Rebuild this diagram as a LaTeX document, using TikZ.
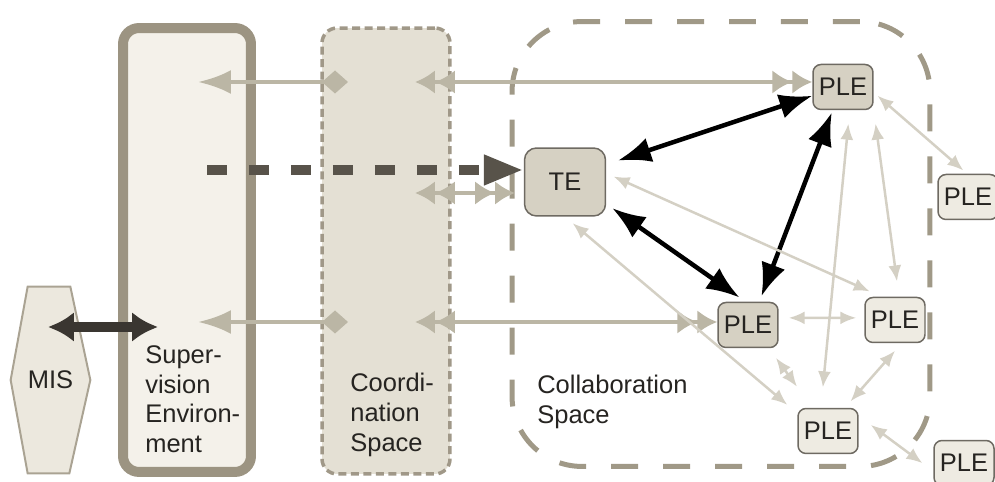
\documentclass[tikz,border=0pt]{standalone}
\usepackage{fontspec}
\setsansfont{Liberation Sans}
\usepackage{tikz}
\usetikzlibrary{arrows.meta, positioning, calc, backgrounds}
\definecolor{supfill}{RGB}{244,241,234}
\definecolor{supline}{RGB}{156,148,130}
\definecolor{coordfill}{RGB}{228,224,212}
\definecolor{coordline}{RGB}{160,152,136}
\definecolor{collabline}{RGB}{160,153,135}
\definecolor{linkgray}{RGB}{187,182,165}
\definecolor{weakgray}{RGB}{212,208,196}
\definecolor{dashdark}{RGB}{88,83,74}
\definecolor{busdark}{RGB}{58,54,49}
\definecolor{nodedark}{RGB}{214,209,195}
\definecolor{nodelight}{RGB}{238,235,226}
\definecolor{nodeline}{RGB}{110,106,98}
\definecolor{misfill}{RGB}{236,232,222}
\definecolor{misline}{RGB}{170,163,147}
\definecolor{textdark}{RGB}{38,36,33}
\newcommand{\diagfont}{\sffamily\fontsize{14.5}{17}\selectfont}
\tikzset{
    supbox/.style={
        rectangle,
        draw=supline,
        line width=0.2cm,
        fill=supfill,
        rounded corners=0.32cm,
        minimum width=2.56cm,
        minimum height=8.88cm
    },
    coordbox/.style={
        rectangle,
        draw=coordline,
        line width=0.07cm,
        dash pattern=on 0.16cm off 0.09cm,
        fill=coordfill,
        rounded corners=0.3cm,
        minimum width=2.56cm,
        minimum height=8.92cm
    },
    collabbox/.style={
        rectangle,
        draw=collabline,
        line width=0.1cm,
        dash pattern=on 0.54cm off 0.5cm,
        rounded corners=1.4cm,
        minimum width=8.36cm,
        minimum height=8.9cm
    },
    tebox/.style={
        rectangle,
        draw=nodeline,
        line width=0.03cm,
        fill=nodedark,
        rounded corners=0.24cm,
        minimum width=1.62cm,
        minimum height=1.36cm,
        text=textdark,
        font=\diagfont
    },
    pleblock/.style={
        rectangle,
        draw=nodeline,
        line width=0.03cm,
        fill=nodedark,
        rounded corners=0.16cm,
        minimum width=1.2cm,
        minimum height=0.9cm,
        inner sep=0pt,
        text=textdark,
        font=\diagfont
    },
    plelight/.style={
        pleblock,
        fill=nodelight
    },
    mislabel/.style={
        minimum width=1.58cm,
        minimum height=3.72cm,
        text=textdark,
        font=\diagfont
    },
    arealabel/.style={
        anchor=north west,
        align=left,
        inner sep=0pt,
        text=textdark,
        font=\diagfont
    },
    link/.style={
        draw=linkgray,
        line width=0.09cm,
        >={Latex[length=0.4cm,width=0.48cm]}
    },
    linkdiamond/.style={
        draw=linkgray,
        line width=0.09cm,
        {Latex[length=0.66cm,width=0.48cm]}-{Diamond[length=0.52cm,width=0.46cm]}
    },
    bus/.style={
        draw=busdark,
        line width=0.2cm,
        {Latex[length=0.52cm,width=0.6cm]}-{Latex[length=0.52cm,width=0.6cm]}
    },
    controlsignal/.style={
        draw=dashdark,
        line width=0.2cm,
        dash pattern=on 0.4cm off 0.44cm,
        -{Triangle[length=0.8cm,width=0.56cm]}
    },
    strongconn/.style={
        draw=black,
        line width=0.09cm,
        {Latex[length=0.66cm,width=0.5cm]}-{Latex[length=0.66cm,width=0.5cm]}
    },
    weakconn/.style={
        draw=weakgray,
        line width=0.05cm,
        {Latex[length=0.32cm,width=0.26cm]}-{Latex[length=0.32cm,width=0.26cm]}
    }
}

\begin{document}
\begin{tikzpicture}[x=0.02cm, y=-0.02cm]
\useasboundingbox (0,0) rectangle (995,482);

% Environments and spaces
\node[supbox] (supervision) at (187,250) {};
\node[coordbox] (coordination) at (386,251) {};
\node[collabbox] (collaboration) at (721,244) {};
\node[mislabel] (mis) at (50.5,380) {MIS};

\begin{scope}[on background layer]
\draw[draw=misline, line width=0.04cm, fill=misfill]
    (mis.west) -- ([xshift=0.34cm]mis.north west) -- ([xshift=-0.4cm]mis.north east)
    -- (mis.east) -- ([xshift=-0.42cm]mis.south east) -- ([xshift=0.34cm]mis.south west) -- cycle;
\end{scope}

% Area labels
\node[arealabel] (suplabel) at (145,345) {Super-\\vision\\Environ-\\ment};
\node[arealabel] (coordlabel) at (350,373) {Coordi-\\nation\\Space};
\node[arealabel] (collablabel) at (537,375) {Collaboration\\Space};

% Collaboration members
\node[tebox] (te) at (565,182) {TE};
\node[pleblock] (pletop) at (843,87) {PLE};
\node[pleblock] (plemid) at (748,325) {PLE};
\node[plelight] (plefar) at (968,197) {PLE};
\node[plelight] (pleright) at (895,320) {PLE};
\node[plelight] (plebot) at (828,431) {PLE};
\node[plelight] (plecorner) at (964,463) {PLE};

% Free ends inside the areas
\coordinate (supA) at (198,82);
\coordinate (coordA) at (348,82);
\coordinate (coordB) at (415,82);
\coordinate (supD) at (198,322);
\coordinate (coordD) at (348,322);
\coordinate (coordE) at (415,322);
\coordinate (coordC) at (415,193);
\coordinate (collabC) at (515,193);
\coordinate (supS) at (207,170);
\coordinate (misport) at (48,327);
\coordinate (support) at (158,327);

% Rows through the coordination space
\draw[linkdiamond] (supA) -- (coordA);
\draw[link, <<->>] (coordB) -- (coordB -| pletop.west);
\draw[link, <<->>] (coordC) -- (collabC);
\draw[linkdiamond] (supD) -- (coordD);
\draw[link, <<->>] (coordE) -- (coordE -| plemid.west);
\draw[controlsignal] (supS) -- (supS -| te.west);
\draw[bus] (misport) -- (support);

% Strong links
\draw[strongconn, shorten <=0.25cm] (te.23) -- (pletop.196);
\draw[strongconn, shorten <=0.15cm, shorten >=0.15cm] (te.-28) -- (plemid.96);
\draw[strongconn, shorten <=0.05cm, shorten >=0.12cm] (pletop.246) -- (plemid.64);

% Weak links
\draw[weakconn, shorten <=0.1cm, shorten >=0.1cm] (pletop.-10) -- (plefar.92);
\draw[weakconn, shorten <=0.27cm, shorten >=0.41cm] (pletop.-74) -- (plebot.107);
\draw[weakconn, shorten <=0.27cm, shorten >=0.31cm] (pletop.south east) -- (pleright.80);
\draw[weakconn, shorten <=0.16cm, shorten >=0.26cm] (te.12) -- (pleright.120);
\draw[weakconn, shorten <=0.2cm, shorten >=0.26cm] (te.south) -- (plebot.150);
\draw[weakconn, shorten <=0.2cm, shorten >=0.16cm] (plemid.13) -- (pleright.176);
\draw[weakconn, shorten <=0.24cm, shorten >=0.52cm] (plemid.-48) -- (plebot.124);
\draw[weakconn, shorten <=0.2cm, shorten >=0.17cm] (pleright.-74) -- (plebot.54);
\draw[weakconn, shorten <=0.3cm, shorten >=0.27cm] (plebot.26) -- (plecorner.195);

\end{tikzpicture}
\end{document}
